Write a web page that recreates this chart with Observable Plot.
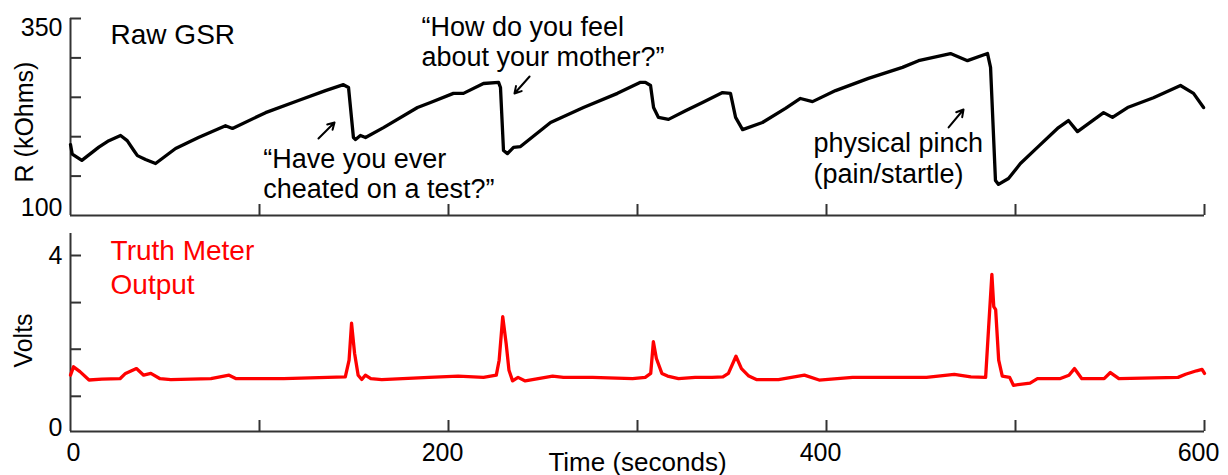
<!DOCTYPE html>
<html>
<head>
<meta charset="utf-8">
<script src="https://cdn.jsdelivr.net/npm/d3@7"></script>
<script src="https://cdn.jsdelivr.net/npm/@observablehq/plot@0.6"></script>
<style>
  body { margin: 0; background: #fff; }
  #chart svg { display: block; }
</style>
</head>
<body>
<div id="chart"></div>
<script>
// ---- Data (time in seconds, resistance in kOhms, output in volts) ----
const gsrPoints = [
  [0,190],[0.9,178],[6,170],[15,186.7],[20.3,195],[26.5,201.5],[30,195],[33.5,182.5],[35.4,176],[39.7,171],[45,166],
  [55.6,185],[67.7,199],[82,214],[85.7,210.5],[103.2,230.5],[120.6,246],[134.9,258.5],[144.4,266],[147.1,262.5],
  [149.7,199],[150.8,196.5],[153.4,201.5],[156.1,199],[165.6,211.5],[183.6,237],[190.5,243.5],[202.6,255],[207.9,255],
  [218.5,267.5],[226.5,269],[227.5,262.5],[229.1,182.5],[231.2,178.5],[234.4,186.5],[238.1,187.5],[254,218],[271.4,237],
  [289.4,255],[301.6,269],[304.2,269],[306.9,265],[308.5,237],[311.1,224.5],[316.4,222],[325.4,233],[334.4,243.5],
  [345,256],[349.2,255],[351.9,224.5],[355.6,209],[366.1,218],[378.3,236],[386.2,248.5],[392.6,244.5],[404.8,258.5],
  [422.2,274],[440.2,288],[448.7,296.5],[465.6,305.5],[474.6,296.5],[485.2,305.5],[486.8,288],[489.4,144.5],[491,139.5],
  [496.3,147],[502.6,166],[511.6,186.5],[522.2,210.5],[528,220.5],[532.8,206.5],[546.6,230.5],[551.3,224.5],[559.3,237],
  [573,249.5],[587.3,265],[594.2,255],[599.5,237]
];
const voltPoints = [
  [0,1.28],[1.6,1.47],[5,1.36],[9.8,1.17],[16.6,1.19],[26.2,1.2],[29.1,1.32],[34.9,1.43],[38.7,1.28],[42.5,1.32],
  [47.4,1.2],[53.1,1.18],[74.3,1.2],[83.9,1.28],[87.7,1.2],[112.8,1.2],[145.4,1.24],[147.4,1.62],[148.7,2.46],
  [150.3,1.78],[152.2,1.28],[154.1,1.18],[156,1.28],[158.9,1.2],[164.7,1.18],[189.7,1.23],[205.1,1.26],[218.5,1.23],
  [225.3,1.28],[226.8,1.62],[228.7,2.61],[230.5,2.0],[232,1.39],[233.9,1.15],[236.8,1.23],[240.6,1.15],[255.1,1.26],
  [260.8,1.23],[276.2,1.23],[297.4,1.2],[304.1,1.23],[307,1.32],[308.4,2.04],[310,1.66],[312.9,1.32],[315.9,1.26],
  [321.7,1.2],[330.5,1.23],[339.4,1.23],[345.2,1.24],[348.1,1.32],[352.1,1.71],[355,1.43],[358.9,1.26],[362.9,1.18],
  [374.6,1.18],[388.3,1.28],[396.1,1.17],[413.8,1.23],[452.9,1.23],[467.6,1.3],[476.4,1.24],[484.2,1.23],[485.8,2.38],
  [487.5,3.57],[488.5,2.84],[489.5,2.77],[491.1,1.62],[493,1.26],[496.9,1.23],[498.9,1.05],[507.7,1.1],[511.6,1.2],
  [523.4,1.2],[528.3,1.28],[531.2,1.43],[535.1,1.2],[546.9,1.2],[550.2,1.34],[554.7,1.2],[586,1.23],[590,1.3],
  [595.8,1.38],[598.7,1.41],[600,1.32]
];
const timeTicks = [100, 200, 300, 400, 500, 600];
const timeLabels = [0, 200, 400, 600];
const rTicks = [150, 200, 250, 300, 350];
const voltTicks = [0.8, 1.87, 2.93, 4];

const annotations = [
  {t: 102, r: 188, label: "\u201CHave you ever\ncheated on a test?\u201D"},
  {t: 185.7, r: 355.4, label: "\u201CHow do you feel\nabout your mother?\u201D"},
  {t: 393.1, r: 207.9, label: "physical pinch\n(pain/startle)"}
];
const arrows = [
  {t1: 131.2, r1: 197.7, t2: 139.7, r2: 218},
  {t1: 242.9, r1: 276.4, t2: 234.9, r2: 254.8},
  {t1: 464.6, r1: 211.7, t2: 472.5, r2: 234.5}
];

// ---- Layout / style ----
const W = 1228, ML = 70, MR = 24;
const innerW = W - ML - MR;
const font = "'Liberation Sans', Arial, Helvetica, sans-serif";
const axisColor = "#333";
const tickLen = 11;

const topH = 225, topMT = 18, topMB = 10;
const botH = 250, botMT = 8, botMB = 44;

const topPlot = Plot.plot({
  width: W, height: topH,
  marginLeft: ML, marginRight: MR, marginTop: topMT, marginBottom: topMB,
  x: {domain: [0, 600], axis: null},
  y: {domain: [100, 350], axis: null},
  style: {fontFamily: font, background: "#fff", color: "#000", overflow: "visible"},
  marks: [
    Plot.ruleY([100], {stroke: axisColor, strokeWidth: 2}),
    Plot.ruleX([0], {stroke: axisColor, strokeWidth: 2}),
    Plot.ruleY(rTicks, {stroke: axisColor, strokeWidth: 2, insetRight: innerW - tickLen}),
    Plot.ruleX(timeTicks, {stroke: axisColor, strokeWidth: 2, insetTop: topH - topMT - topMB - tickLen}),
    Plot.text([350], {y: d => d, frameAnchor: "left", dx: -8, textAnchor: "end", lineAnchor: "top", fontSize: 25, fill: "#000"}),
    Plot.text([100], {y: d => d, frameAnchor: "left", dx: -8, textAnchor: "end", lineAnchor: "bottom", fontSize: 25, fill: "#000"}),
    Plot.text(["R (kOhms)"], {frameAnchor: "left", dx: -46, dy: 5, rotate: -90, textAnchor: "middle", lineAnchor: "middle", fontSize: 25, fill: "#000"}),
    Plot.text(["Raw GSR"], {x: 21.2, y: 343, textAnchor: "start", lineAnchor: "top", fontSize: 28, fill: "#000"}),
    Plot.line(gsrPoints, {x: d => d[0], y: d => d[1], stroke: "#000", strokeWidth: 3.3, strokeLinejoin: "round"}),
    Plot.text(annotations, {x: "t", y: "r", text: "label", textAnchor: "start", lineAnchor: "top", lineHeight: 1.13, fontSize: 27, fill: "#000"}),
    Plot.arrow(arrows, {x1: "t1", y1: "r1", x2: "t2", y2: "r2", stroke: "#000", strokeWidth: 2, headLength: 9})
  ]
});

const botPlot = Plot.plot({
  width: W, height: botH,
  marginLeft: ML, marginRight: MR, marginTop: botMT, marginBottom: botMB,
  x: {domain: [0, 600], axis: null},
  y: {domain: [0, 4.5], axis: null},
  style: {fontFamily: font, background: "#fff", color: "#000", overflow: "visible"},
  marks: [
    Plot.ruleY([0], {stroke: axisColor, strokeWidth: 2}),
    Plot.ruleX([0], {stroke: axisColor, strokeWidth: 2}),
    Plot.ruleY(voltTicks, {stroke: axisColor, strokeWidth: 2, insetRight: innerW - tickLen}),
    Plot.ruleX(timeTicks, {stroke: axisColor, strokeWidth: 2, insetTop: botH - botMT - botMB - tickLen}),
    Plot.text([4], {y: d => d, frameAnchor: "left", dx: -8, textAnchor: "end", lineAnchor: "middle", fontSize: 25, fill: "#000"}),
    Plot.text([0], {y: d => d, frameAnchor: "left", dx: -8, dy: 4, textAnchor: "end", lineAnchor: "bottom", fontSize: 25, fill: "#000"}),
    Plot.text(timeLabels.slice(0, 1), {x: d => d, frameAnchor: "bottom", dx: 3, dy: 21, textAnchor: "middle", lineAnchor: "middle", fontSize: 25, fill: "#000"}),
    Plot.text(timeLabels.slice(1), {x: d => d, frameAnchor: "bottom", dx: -6, dy: 21, textAnchor: "middle", lineAnchor: "middle", fontSize: 25, fill: "#000"}),
    Plot.text(["Time (seconds)"], {frameAnchor: "bottom", dy: 31, textAnchor: "middle", lineAnchor: "middle", fontSize: 26, fill: "#000"}),
    Plot.text(["Volts"], {frameAnchor: "left", dx: -47, dy: 8, rotate: -90, textAnchor: "middle", lineAnchor: "middle", fontSize: 25, fill: "#000"}),
    Plot.text(["Truth Meter\nOutput"], {x: 21.2, y: 4.44, textAnchor: "start", lineAnchor: "top", lineHeight: 1.21, fontSize: 28, fill: "#ff0000"}),
    Plot.line(voltPoints, {x: d => d[0], y: d => d[1], stroke: "#ff0000", strokeWidth: 3.3, strokeLinejoin: "round"})
  ]
});

const chart = document.getElementById("chart");
chart.appendChild(topPlot);
chart.appendChild(botPlot);
</script>
</body>
</html>
